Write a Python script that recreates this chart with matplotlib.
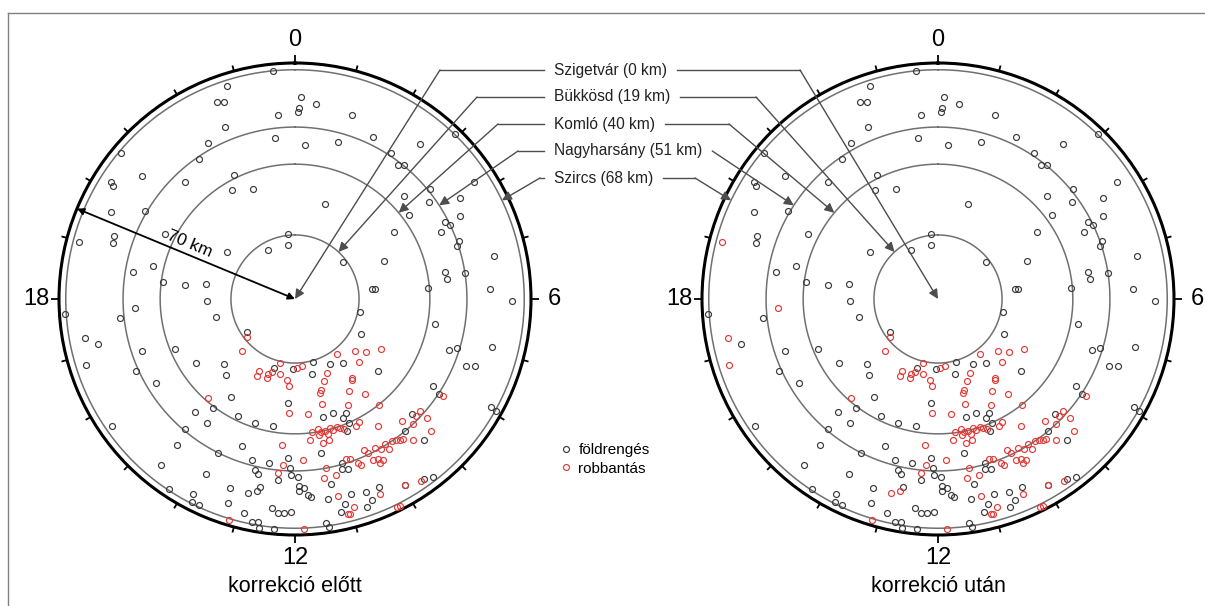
import numpy as np
import matplotlib
matplotlib.use('Agg')
import matplotlib.pyplot as plt
from matplotlib.lines import Line2D

plt.rcParams['font.family'] = ['Liberation Sans', 'DejaVu Sans']

# ---------------- data (hour of day, epicentral distance in km) ----------------
eq_hour = [23.63, 22.82, 22.56, 22.69, 23.65, 22.52, 23.53, 22.06, 21.71, 20.67, 20.58, 22.25, 21.11, 20.16,
           20.12, 21.99, 22.59, 19.69, 20.02,
           0.11, 0.09, 0.06, 0.42, 1.15, 1.72, 1.01, 0.25, 2.59, 2.94, 2.23, 2.50, 2.61, 3.79, 3.39, 3.11,
           3.62, 3.90, 1.18, 3.58, 4.22,
           19.28, 19.14, 19.77, 20.29, 23.61, 23.53, 22.10, 18.64, 18.87, 18.50, 18.48, 18.65, 17.91, 17.16,
           17.59, 17.76, 17.15, 16.74, 16.49, 16.38, 15.79, 15.17, 14.81, 15.72, 13.12,
           3.73, 4.35, 4.18, 4.30, 4.70, 4.78, 5.19, 3.46, 4.44, 5.52, 5.51, 5.68, 5.31, 5.51, 5.43, 5.80,
           6.04, 6.77, 6.68, 7.87, 7.23, 7.13, 6.91, 7.42, 7.36, 10.13, 9.56, 8.74, 10.93, 11.14, 12.13,
           15.92, 14.21, 14.76, 14.46, 13.73, 14.37, 13.18, 12.66, 12.25, 15.68, 14.67, 14.60, 13.33, 13.78,
           12.99, 12.60, 12.16, 12.11, 12.89, 12.80, 12.35, 12.08, 14.59, 13.80, 13.27, 12.71, 14.24, 13.84,
           13.79, 13.67, 13.21, 12.89, 12.42, 12.31, 12.20, 12.07, 12.73, 12.63, 12.59, 12.35,
           8.14, 8.23, 7.92, 7.94, 10.76, 10.38, 11.10, 10.53, 10.43, 10.56, 8.96, 9.34, 9.17, 11.37, 10.94,
           10.98, 10.85, 11.27, 11.94, 11.91, 11.81, 11.93, 11.74, 11.69, 11.37, 10.94, 10.65, 10.40, 10.61,
           10.73, 11.09, 11.19, 9.62, 9.48, 9.96, 11.48, 11.43]
eq_dist = [67.8, 66.2, 63.0, 62.2, 54.8, 55.0, 48.1, 53.0, 50.4, 67.4, 58.2, 41.0, 47.6, 64.7,
           63.6, 37.4, 34.9, 60.4, 51.6,
           60.0, 56.6, 55.6, 58.1, 57.1, 53.3, 48.3, 45.8, 59.1, 68.2, 51.8, 50.1, 51.3, 63.5, 51.7, 44.6,
           49.1, 57.3, 29.7, 42.1, 54.8,
           56.8, 56.5, 43.0, 24.5, 19.4, 16.1, 16.6, 48.8, 43.2, 39.4, 32.9, 26.8, 26.1, 24.0,
           52.3, 68.5, 60.0, 48.0, 38.7, 51.8, 34.9, 28.4, 30.4, 17.2, 21.5,
           35.6, 47.6, 50.0, 51.0, 51.5, 50.5, 60.4, 18.0, 28.7, 23.1, 24.0, 39.5, 45.2, 45.6, 51.0, 58.0,
           64.5, 19.6, 42.2, 22.3, 48.2, 50.3, 60.2, 54.4, 57.1, 21.9, 23.8, 32.5, 19.4, 22.9, 20.9,
           48.2, 34.6, 44.8, 40.4, 38.5, 45.1, 38.7, 38.2, 30.9, 66.1, 50.5, 55.6, 46.5, 51.0,
           49.4, 49.3, 47.3, 50.0, 52.0, 53.0, 53.9, 52.2, 63.2, 58.4, 59.3, 56.8, 67.5, 65.2,
           67.6, 67.4, 63.8, 65.3, 62.5, 63.8, 63.7, 63.1, 67.3, 67.1, 68.6, 68.5,
           48.4, 51.2, 66.3, 68.3, 35.6, 37.0, 35.9, 38.2, 40.2, 42.0, 48.7, 50.9, 56.6, 46.3, 50.6,
           52.4, 52.7, 55.9, 52.9, 55.6, 56.0, 56.9, 58.2, 59.0, 60.2, 60.2, 61.1, 61.1, 63.8,
           65.2, 62.6, 64.7, 65.7, 66.8, 64.1, 67.0, 68.3]

ex_hour = [15.44, 15.03, 12.88, 9.51, 8.75, 8.44, 8.02, 8.99, 10.45, 11.62, 11.91, 9.61, 14.75, 12.25,
           12.20, 12.35, 12.28, 12.38, 13.11, 10.69, 9.67, 10.95, 11.00, 9.98, 9.57, 11.04, 10.22, 9.43,
           11.56, 8.22, 8.78, 8.93, 8.81, 9.25, 9.78, 10.17, 10.29, 9.11, 8.94,
           11.33, 11.26, 11.15, 10.99, 10.92, 10.79, 10.72, 10.62, 11.08, 11.33, 11.51, 11.60, 11.09, 11.28,
           10.37, 10.30, 10.11, 10.01, 9.88, 9.86, 9.71, 9.63, 9.56, 9.49, 9.34, 10.28, 10.17, 10.09, 10.17,
           10.55, 10.61, 10.73, 10.82, 11.80, 11.31, 11.38, 11.13, 11.19, 10.43, 9.68, 10.95, 11.08, 11.04,
           10.25, 10.20, 11.85, 13.76, 13.31, 13.74, 13.32, 13.18, 12.75, 12.36, 9.96]
ex_dist = [18.3, 22.0, 19.6, 20.5, 23.5, 26.3, 29.4, 26.6, 23.8, 19.9, 20.5, 29.0, 39.0, 25.8,
           33.8, 43.4, 49.3, 51.8, 68.4, 25.7, 29.3, 28.1, 28.9, 31.7, 35.1, 32.1, 35.1, 40.1,
           34.4, 52.6, 49.8, 49.9, 52.8, 48.3, 45.1, 41.2, 41.7, 51.1, 56.3,
           39.2, 40.2, 40.2, 39.7, 40.5, 40.0, 40.5, 41.2, 41.2, 41.0, 39.8, 42.1, 43.0, 43.6,
           49.1, 50.6, 50.1, 51.3, 50.7, 52.5, 50.9, 51.4, 52.2, 52.5, 54.7, 53.0, 53.5, 54.4, 54.8,
           53.0, 52.1, 50.2, 49.8, 47.8, 51.0, 53.9, 53.7, 59.9, 63.1, 65.6, 64.0, 65.7, 65.9,
           68.7, 68.8, 68.3, 23.8, 23.5, 25.4, 24.8, 22.6, 22.8, 24.2, 64.1]

# earthquakes before correction that became explosions after correction
recl_hour = [18.98, 17.79, 17.30, 16.83, 12.91, 12.75]
recl_dist = [66.3, 47.5, 63.3, 65.1, 59.2, 58.1]

station_names = ['Szigetvár', 'Bükkösd', 'Komló', 'Nagyharsány', 'Szircs']
station_dist = [0, 19, 40, 51, 68]
hour_ticks = list(range(24))
hour_labels = {0: '0', 6: '6', 12: '12', 18: '18'}
panel_titles = ['korrekció előtt', 'korrekció után']
legend_labels = ['földrengés', 'robbantás']
r_max = 70

# ---------------- styling / layout ----------------
W, H = 1205, 606
EQ_C = '#3a3a3a'
EX_C = '#e23a36'
RING_C = '#707070'
ARROW_C = '#4d4d4d'
centers = [(295, 299), (938, 299)]
R_PX = 236


def ff(x, y):
    return (x / W, 1 - y / H)


fig = plt.figure(figsize=(W / 100, H / 100), dpi=100)
renderer = fig.canvas.get_renderer()

# outer frame (partially visible)
fig.add_artist(Line2D([8 / W, 1.0], [1 - 13 / H, 1 - 13 / H], color='#808080', lw=1))
fig.add_artist(Line2D([8 / W, 8 / W], [1 - 13 / H, 0], color='#808080', lw=1))

to_theta = lambda h: np.array(h) * 2 * np.pi / 24
axes = []
th = np.linspace(0, 2 * np.pi, 400)
for k, (cx, cy) in enumerate(centers):
    ax = fig.add_axes([(cx - R_PX) / W, (H - cy - R_PX) / H, 2 * R_PX / W, 2 * R_PX / H],
                      projection='polar')
    ax.set_theta_zero_location('N')
    ax.set_theta_direction(-1)
    ax.set_ylim(0, r_max)
    ax.set_yticks([])
    ax.set_xticks([])
    ax.grid(False)
    ax.spines['polar'].set_linewidth(2.2)
    ax.spines['polar'].set_color('black')
    ax.patch.set_alpha(0)
    for d in station_dist[1:]:
        ax.plot(th, np.full_like(th, d), color=RING_C, lw=1.1, zorder=1)
    for h in hour_ticks:
        tl = 2.4 if h in hour_labels else 1.7
        ax.plot([to_theta(h)] * 2, [r_max, r_max + tl], color='black', lw=1.3,
                clip_on=False, solid_capstyle='butt', zorder=2)
    for h, lab in hour_labels.items():
        ax.text(to_theta(h), 76.8, lab, ha='center', va='center', fontsize=17, clip_on=False)
    ax.text(np.pi, 85.3, panel_titles[k], ha='center', va='center', fontsize=15.5, clip_on=False)
    axes.append(ax)

mk = dict(ls='none', marker='o', mfc='none', ms=4.3, mew=0.85, clip_on=False)

# before correction
axL, axR = axes
axL.plot(to_theta(eq_hour + recl_hour), eq_dist + recl_dist, mec=EQ_C, zorder=3, **mk)
axL.plot(to_theta(ex_hour), ex_dist, mec=EX_C, zorder=4, **mk)
# after correction
axR.plot(to_theta(eq_hour), eq_dist, mec=EQ_C, zorder=3, **mk)
axR.plot(to_theta(ex_hour + recl_hour), ex_dist + recl_dist, mec=EX_C, zorder=4, **mk)

# 70 km radius arrow
axL.annotate('', xy=(0, 0), xytext=(to_theta(19.5), r_max),
             arrowprops=dict(arrowstyle='<|-|>', color='black', lw=1.3, mutation_scale=10,
                             shrinkA=0, shrinkB=0), zorder=5)
axL.text(to_theta(19.84), 35.2, '70 km', rotation=-22.5, ha='center', va='center', fontsize=12.5)

# station labels and arrows
label_y = [70, 97, 124, 151, 178]
label_x = 554
arrow_hour_L = [0, 2.85, 3.35, 3.8, 4.3]
cornerL_x = [440, 477, 498, 518, 540]
cornerR_x = [800, 756, 729, 708, 695]
for i, name in enumerate(station_names):
    y = label_y[i]
    t = fig.text(label_x / W, 1 - y / H, f'{name} ({station_dist[i]} km)', ha='left', va='center',
                 fontsize=11.2, color='#222222')
    x_end = t.get_window_extent(renderer).x1
    akw = dict(arrowstyle='-|>', color=ARROW_C, lw=1, mutation_scale=14, shrinkA=0, shrinkB=0)
    # left panel
    x0 = label_x - 10
    fig.add_artist(Line2D([x0 / W, cornerL_x[i] / W], [1 - y / H, 1 - y / H], color=ARROW_C, lw=1))
    axL.annotate('', xy=(to_theta(arrow_hour_L[i]), station_dist[i]), xycoords='data',
                 xytext=ff(cornerL_x[i], y), textcoords='figure fraction',
                 arrowprops=akw, annotation_clip=False, zorder=6)
    # right panel (mirror)
    x1 = x_end + 10
    cxr = max(cornerR_x[i], x1)
    fig.add_artist(Line2D([x1 / W, cxr / W], [1 - y / H, 1 - y / H], color=ARROW_C, lw=1))
    axR.annotate('', xy=(to_theta(24 - arrow_hour_L[i]), station_dist[i]), xycoords='data',
                 xytext=ff(cxr, y), textcoords='figure fraction',
                 arrowprops=akw, annotation_clip=False, zorder=6)

# legend
handles = [Line2D([], [], ls='none', marker='o', mfc='none', mec=EQ_C, ms=4.3, mew=0.85),
           Line2D([], [], ls='none', marker='o', mfc='none', mec=EX_C, ms=4.3, mew=0.85)]
fig.legend(handles, legend_labels, loc='upper left', bbox_to_anchor=(560 / W, 1 - 443 / H),
           frameon=False, fontsize=11, handlelength=0.8, handletextpad=0.4, labelspacing=0.3,
           borderpad=0, borderaxespad=0)

fig.savefig('out.png', dpi=100)
